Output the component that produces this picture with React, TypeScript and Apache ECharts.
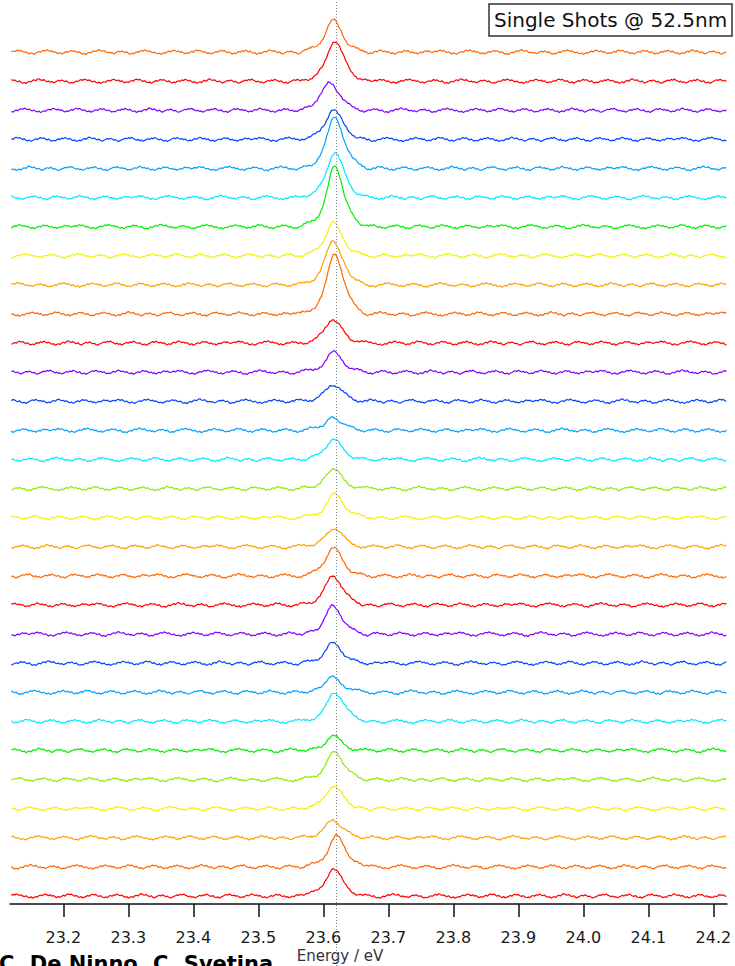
import React, { useEffect, useRef } from "react";
import * as echarts from "echarts";

// Energy axis sampling (eV)
const X_START = 23.12;
const X_STEP = 0.0025;
const N_POINTS = 441;
const X_MIN = 23.118;
const X_MAX = 24.221;
const TICKS = [23.2, 23.3, 23.4, 23.5, 23.6, 23.7, 23.8, 23.9, 24.0, 24.1, 24.2];
const REF_ENERGY = 23.6165;

// vertical offset between stacked single shots
const OFFSET = 29.1;

// trace colours, top to bottom
const COLORS = [
  "#ff6600", "#ff0000", "#8000ff", "#0044ff", "#00a0ff", "#00e8ff", "#00ee00", "#f5f000", "#ffa000", "#ff6600",
  "#ff0000", "#8000ff", "#0044ff", "#00a0ff", "#00e8ff", "#88ee00", "#f5f000", "#ffa000", "#ff6600", "#ff0000",
  "#8000ff", "#0044ff", "#00a0ff", "#00e8ff", "#00ee00", "#88ee00", "#f5f000", "#ffa000", "#ff6600", "#ff0000",
];

// peak heights of each shot, top to bottom
const PEAK_HEIGHT = [
  32, 41, 29, 30, 52, 46, 60, 33, 45, 60,
  24, 20, 17, 13, 20, 19, 24, 19, 28, 30,
  28, 20, 15, 30, 14, 28, 23, 18, 31, 27,
];

// peak centre of each shot (eV)
const PEAK_CENTER = [
  23.615, 23.6175, 23.61, 23.615, 23.6175, 23.6175, 23.6175, 23.615, 23.615, 23.6175,
  23.615, 23.615, 23.615, 23.615, 23.615, 23.615, 23.6175, 23.615, 23.615, 23.615,
  23.615, 23.615, 23.615, 23.6175, 23.615, 23.6175, 23.615, 23.615, 23.62, 23.615,
];

// normalised line profile, offsets -0.05 .. +0.05 eV in 0.0025 eV steps
const PEAK_SHAPE = [
  0.02, 0.03, 0.04, 0.05, 0.06, 0.075, 0.09, 0.11, 0.13, 0.16,
  0.2, 0.25, 0.3, 0.38, 0.47, 0.57, 0.68, 0.8, 0.9, 0.97,
  1.0,
  0.97, 0.92, 0.84, 0.75, 0.65, 0.55, 0.46, 0.38, 0.31, 0.25,
  0.2, 0.16, 0.13, 0.1, 0.08, 0.06, 0.045, 0.03, 0.02, 0.01,
];

// detector noise read from the baselines
const NOISE = [
  0.4, 1.1, 0.3, 1.5, 2.0, 0.9, 1.7, 0.6, -0.4, 0.3,
  -1.0, -1.8, -0.7, -1.4, -2.1, -0.9, -0.2, 0.6, -0.1, 1.0,
  1.8, 1.1, 2.3, 1.4, 0.5, 1.2, -0.2, 0.4, -0.8, -1.5,
  -0.6, -1.9, -1.1, -0.3, 0.5, -0.2, 0.8, 1.6, 0.7, 1.3,
  0.2, -0.5, 0.4, -1.2, -2.0, -1.3, -2.4, -1.0, -0.1, -0.8,
  0.6, 1.4, 0.5, 1.9, 2.5, 1.3, 0.8, 1.7, 0.2, -0.6,
  0.1, -1.0, -0.3, -1.6, -0.9, 0.0, 0.9, 0.2, 1.2, 0.4,
  -0.5, 0.3, -1.3, -2.1, -1.2, -1.8, -0.7, 0.2, -0.4, 0.9,
  1.6, 0.8, 2.2, 1.5, 0.6, 1.3, 0.1, -0.7, 0.2, -1.1,
  -1.7, -0.8, -2.3, -1.4, -0.5, -1.1, 0.3, 1.0, 0.2, 1.4,
  2.0, 1.1, 0.4, 1.2, -0.3, 0.5, -0.9, -1.6, -0.6, -1.3,
  -0.2, 0.7, -0.1, 1.5, 2.1, 1.2, 1.9, 0.8, -0.2, 0.6,
  -0.8, -1.5, -0.5, -2.0, -1.1, -0.4, 0.6, -0.2, 1.1, 1.8,
  0.9, 1.6, 0.3, -0.5, 0.4, -1.0, -1.8, -0.9, -1.6, -0.3,
  0.5, -0.2, 1.3, 0.6, 2.0, 1.1, 0.2, 1.0, -0.4, -1.2,
  -0.5, -2.2, -1.3, -0.6, -1.5, 0.1, 0.8, 0.0, 1.6, 2.4,
  1.4, 0.7, 1.5, 0.2, -0.6, 0.3, -1.1, -1.9, -0.9, -0.1,
  0.8, 0.1, 1.2, 0.4, -0.7, -0.1, -1.4, -2.0, -1.2, -0.4,
  0.3, 1.1, 0.5, 1.8, 1.0, 2.1, 0.9, 0.2, -0.8, 0.1,
  -1.3, -0.6, -1.9, -1.0, -0.2, 0.7, -0.1, 1.3, 0.5, 1.9,
  1.2, 0.3, -0.4, 0.5, -1.0, -1.7, -0.8, -2.2, -1.1, -0.3,
  0.6, 1.5, 0.7, 1.9, 1.1, 0.2, 0.9, -0.3, 0.4, -0.9,
  -1.6, -0.7, -1.4, 0.0, 0.8, 0.1, 1.4, 2.2, 1.3, 0.5,
  1.1, -0.2, 0.6, -0.8, -1.5, -0.6, -2.1, -1.2, -0.3, 0.4,
  -0.4, 0.9, 1.7, 0.8, 1.5, 0.3, -0.5, 0.2, -1.2, -0.6,
  -1.8, -0.9, 0.0, -0.7, 0.6, 1.4, 0.5, 1.2, 0.1, -0.3,
];

// where each shot's noise record starts
const NOISE_SHIFT = [
  0, 37, 74, 111, 148, 185, 222, 13, 50, 87,
  124, 161, 198, 235, 26, 63, 100, 137, 174, 211,
  248, 31, 68, 105, 142, 179, 216, 5, 42, 79,
];

function buildTrace(i: number): number[][] {
  const n = COLORS.length;
  const base = (n - 1 - i) * OFFSET;
  const idx = Math.round((PEAK_CENTER[i] - X_START) / X_STEP);
  const half = (PEAK_SHAPE.length - 1) / 2;
  const pts: number[][] = [];
  for (let j = 0; j < N_POINTS; j++) {
    const x = +(X_START + j * X_STEP).toFixed(4);
    const d = j - idx;
    const shape = Math.abs(d) <= half ? PEAK_SHAPE[d + half] : 0;
    const y = base + NOISE[(j + NOISE_SHIFT[i]) % NOISE.length] + PEAK_HEIGHT[i] * shape;
    pts.push([x, y]);
  }
  return pts;
}

export default function App() {
  const ref = useRef<HTMLDivElement>(null);
  useEffect(() => {
    if (!ref.current) return;
    const chart = echarts.init(ref.current, undefined, { renderer: "svg" });
    const font = "DejaVu Sans";
    const traceSeries = COLORS.map((c, i) => ({
      type: "line",
      xAxisIndex: 0,
      yAxisIndex: 0,
      data: buildTrace(i),
      showSymbol: false,
      symbol: "none",
      lineStyle: { color: c, width: 1.2 },
      itemStyle: { color: c },
      z: 2,
    }));
    chart.setOption({
      animation: false,
      backgroundColor: "#ffffff",
      grid: [
        { left: 10, right: 8, top: 0, height: 904 },
        { left: 10, right: 8, top: 0, bottom: 0 },
      ],
      xAxis: [
        {
          type: "value",
          gridIndex: 0,
          min: X_MIN,
          max: X_MAX,
          splitLine: { show: false },
          axisLine: { show: true, onZero: false, lineStyle: { color: "#111", width: 1.5 } },
          axisTick: {
            show: true,
            inside: false,
            length: 13,
            customValues: TICKS,
            lineStyle: { color: "#111", width: 1.5 },
          },
          axisLabel: {
            show: true,
            customValues: TICKS,
            margin: 25,
            color: "#1a1a1a",
            fontFamily: font,
            fontSize: 16,
            formatter: (v: number) => v.toFixed(1),
          },
        },
        {
          type: "value",
          gridIndex: 1,
          min: X_MIN,
          max: X_MAX,
          show: false,
        },
      ],
      yAxis: [
        { type: "value", gridIndex: 0, min: -8, max: 896, show: false },
        { type: "value", gridIndex: 1, min: 0, max: 1, show: false },
      ],
      series: [
        ...traceSeries,
        {
          type: "line",
          xAxisIndex: 1,
          yAxisIndex: 1,
          data: [],
          symbol: "none",
          z: 5,
          markLine: {
            silent: true,
            symbol: "none",
            label: { show: false },
            lineStyle: { color: "#8a8a8a", width: 1, type: [1, 2] },
            data: [{ xAxis: REF_ENERGY }],
          },
        },
      ],
      graphic: [
        {
          type: "rect",
          shape: { x: 489, y: 4, width: 243, height: 32 },
          style: { fill: "#ffffff", stroke: "#333", lineWidth: 1.5 },
          z: 10,
        },
        {
          type: "text",
          x: 494,
          y: 20,
          style: {
            text: "Single Shots @ 52.5nm",
            fontFamily: font,
            fontSize: 20,
            fill: "#111",
            textVerticalAlign: "middle",
          },
          z: 11,
        },
        {
          type: "text",
          x: 340,
          y: 948,
          style: {
            text: "Energy / eV",
            fontFamily: font,
            fontSize: 15,
            fill: "#333",
            textAlign: "center",
            textVerticalAlign: "top",
          },
          z: 11,
        },
        {
          type: "text",
          x: -1,
          y: 953,
          style: {
            text: "C. De Ninno, C. Svetina",
            fontFamily: font,
            fontSize: 21,
            fontWeight: "bold",
            fill: "#000",
            textVerticalAlign: "top",
          },
          z: 11,
        },
      ],
    });
    return () => chart.dispose();
  }, []);
  return (
    <div
      ref={ref}
      style={{ position: "fixed", left: 0, top: 0, width: 735, height: 966, background: "#fff" }}
    />
  );
}
